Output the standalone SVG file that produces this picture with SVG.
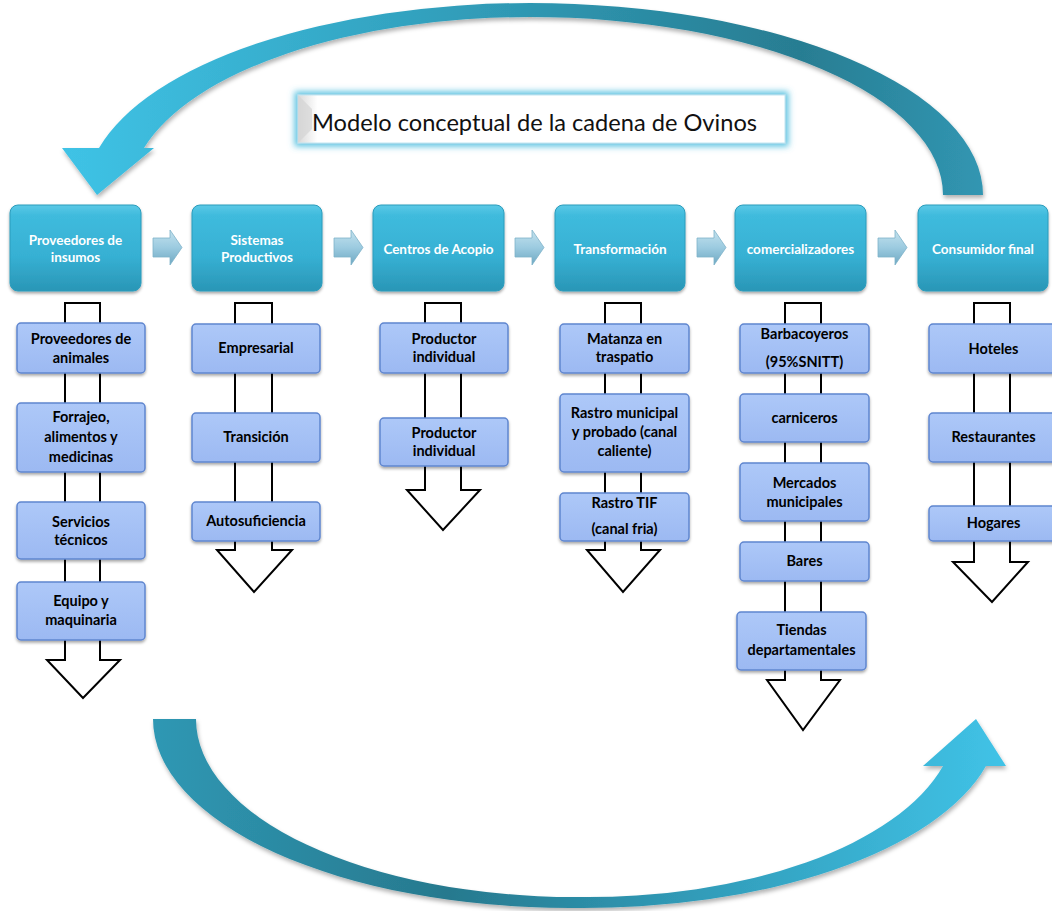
<svg xmlns="http://www.w3.org/2000/svg" width="1052" height="911" viewBox="0 0 1052 911">
<defs>
<linearGradient id="gTop" x1="0" y1="0" x2="1" y2="0">
<stop offset="0" stop-color="#3fc3e6"/>
<stop offset="0.45" stop-color="#309cb8"/>
<stop offset="0.8" stop-color="#287d92"/>
<stop offset="1" stop-color="#3196b2"/>
</linearGradient>
<linearGradient id="gBot" gradientUnits="userSpaceOnUse" x1="150" y1="720" x2="1000" y2="720">
<stop offset="0" stop-color="#2f98b4"/>
<stop offset="0.35" stop-color="#27798e"/>
<stop offset="0.6" stop-color="#2f97b3"/>
<stop offset="1" stop-color="#40c2e6"/>
</linearGradient>
<linearGradient id="gHead" x1="0" y1="0" x2="0" y2="1">
<stop offset="0" stop-color="#5cc9e6"/>
<stop offset="0.12" stop-color="#3fbbdd"/>
<stop offset="0.6" stop-color="#36b0d3"/>
<stop offset="1" stop-color="#2a96b6"/>
</linearGradient>
<linearGradient id="gSub" x1="0" y1="0" x2="0" y2="1">
<stop offset="0" stop-color="#adc8f8"/>
<stop offset="1" stop-color="#9cb9f2"/>
</linearGradient>
<linearGradient id="gChev" x1="0" y1="0" x2="0" y2="1">
<stop offset="0" stop-color="#c4e2ee"/>
<stop offset="0.5" stop-color="#9ccbe0"/>
<stop offset="1" stop-color="#6ea8c2"/>
</linearGradient>
<linearGradient id="gTitle" x1="0" y1="0" x2="1" y2="0">
<stop offset="0" stop-color="#d9d9d9"/>
<stop offset="0.04" stop-color="#ffffff"/>
<stop offset="1" stop-color="#ffffff"/>
</linearGradient>
<filter id="sh" x="-10%" y="-10%" width="120%" height="130%">
<feDropShadow dx="0" dy="2" stdDeviation="1.5" flood-color="#000" flood-opacity="0.35"/>
</filter>
<filter id="glow2" x="-10%" y="-50%" width="120%" height="200%">
<feMorphology in="SourceAlpha" operator="dilate" radius="3" result="d"/>
<feGaussianBlur in="d" stdDeviation="3" result="b"/>
<feFlood flood-color="#3fb8db" flood-opacity="0.85"/>
<feComposite in2="b" operator="in" result="g"/>
<feMerge><feMergeNode in="g"/><feMergeNode in="SourceGraphic"/></feMerge>
</filter>
<filter id="ash" x="-5%" y="-5%" width="110%" height="115%">
<feDropShadow dx="1" dy="3" stdDeviation="2" flood-color="#000" flood-opacity="0.3"/>
</filter>
</defs>
<style>
.head{fill:url(#gHead);stroke:#2b9cbc;stroke-width:1;filter:url(#sh)}
.sub{fill:url(#gSub);stroke:#5f86cf;stroke-width:1.5;filter:url(#sh)}
.ht{font-family:Lato,"Liberation Sans",sans-serif;font-weight:bold;font-size:13.5px;fill:#ffffff;text-anchor:middle}
.st{font-family:Lato,"Liberation Sans",sans-serif;font-weight:bold;font-size:14.5px;fill:#000000;text-anchor:middle}
.hollow{fill:#ffffff;stroke:#000000;stroke-width:2}
.chev{fill:url(#gChev);stroke:#7fb2c9;stroke-width:0.8}
</style>

<g id="cycle-arrows">
<path id="arrow-top" filter="url(#ash)" fill="url(#gTop)" d="M983,195 A453,192 0 0 0 530,3 A445,192 0 0 0 99,148 L62,148 L97,195 L154,148 L144,148 A400,178 0 0 1 530,17 A413,178 0 0 1 943,195 Z"/>
<path id="arrow-bottom" filter="url(#ash)" fill="url(#gBot)" d="M153,719 A417,189 0 0 0 570,908 A416,189 0 0 0 986,766 L1006,766 L976,719 L923,766 L943,766 A368,178 0 0 1 575,897 A379,178 0 0 1 196,719 Z"/>
</g>

<g id="title">
<rect x="298" y="95" width="487" height="48" fill="url(#gTitle)" stroke="#bfe6f2" stroke-width="1" filter="url(#glow2)"/>
<path d="M298,95 L312,109 L312,129 L298,143 Z" fill="#d4d4d4" opacity="0.7"/>
<text x="312" y="131" font-family="Lato,'Liberation Sans',sans-serif" font-size="24" fill="#111" textLength="445" lengthAdjust="spacingAndGlyphs">Modelo conceptual de la cadena de Ovinos</text>
</g>

<g id="connectors">
<path class="chev" d="M153,238 H170 V230 L182,247.5 L170,265 V257 H153 Z"/>
<path class="chev" d="M334,238 H351 V230 L363,247.5 L351,265 V257 H334 Z"/>
<path class="chev" d="M515,238 H532 V230 L544,247.5 L532,265 V257 H515 Z"/>
<path class="chev" d="M697,238 H714 V230 L726,247.5 L714,265 V257 H697 Z"/>
<path class="chev" d="M878,238 H895 V230 L907,247.5 L895,265 V257 H878 Z"/>
<path class="hollow" d="M65,303 H100 V660 H120 L83,698 L47,660 H65 Z"/>
<path class="hollow" d="M235,303 H272 V550 H292 L254,592 L217,550 H235 Z"/>
<path class="hollow" d="M425,303 H461 V490 H480 L443,530 L407,490 H425 Z"/>
<path class="hollow" d="M605,303 H641 V550 H660 L623,592 L587,550 H605 Z"/>
<path class="hollow" d="M785,303 H821 V680 H840 L803,730 L767,680 H785 Z"/>
<path class="hollow" d="M974,303 H1010 V562 H1028 L992,602 L953,562 H974 Z"/>
</g>

<g id="n-proveedores-insumos"><rect class="head" x="10" y="205" width="131" height="86" rx="8"/><text class="ht" x="75.5" y="245">Proveedores de</text><text class="ht" x="75.5" y="262">insumos</text></g>
<g id="n-sistemas"><rect class="head" x="192" y="205" width="130" height="86" rx="8"/><text class="ht" x="257" y="245">Sistemas</text><text class="ht" x="257" y="262">Productivos</text></g>
<g id="n-centros"><rect class="head" x="373" y="205" width="131" height="86" rx="8"/><text class="ht" x="438.5" y="254">Centros de Acopio</text></g>
<g id="n-transformacion"><rect class="head" x="555" y="205" width="130" height="86" rx="8"/><text class="ht" x="620" y="254">Transformación</text></g>
<g id="n-comercializadores"><rect class="head" x="735" y="205" width="131" height="86" rx="8"/><text class="ht" x="800.5" y="254">comercializadores</text></g>
<g id="n-consumidor"><rect class="head" x="918" y="205" width="130" height="86" rx="8"/><text class="ht" x="983" y="254">Consumidor final</text></g>

<g id="n-prov-animales"><rect class="sub" x="17" y="323" width="128" height="50" rx="4"/><text class="st" x="81" y="344">Proveedores de</text><text class="st" x="81" y="363">animales</text></g>
<g id="n-forrajeo"><rect class="sub" x="17" y="403" width="128" height="69" rx="4"/><text class="st" x="81" y="422">Forrajeo,</text><text class="st" x="81" y="442">alimentos y</text><text class="st" x="81" y="462">medicinas</text></g>
<g id="n-servicios"><rect class="sub" x="17" y="502" width="128" height="57" rx="4"/><text class="st" x="81" y="527">Servicios</text><text class="st" x="81" y="545">técnicos</text></g>
<g id="n-equipo"><rect class="sub" x="17" y="582" width="128" height="58" rx="4"/><text class="st" x="81" y="606">Equipo y</text><text class="st" x="81" y="625">maquinaria</text></g>

<g id="n-empresarial"><rect class="sub" x="192" y="324" width="128" height="49" rx="4"/><text class="st" x="256" y="353">Empresarial</text></g>
<g id="n-transicion"><rect class="sub" x="192" y="413" width="128" height="49" rx="4"/><text class="st" x="256" y="442">Transición</text></g>
<g id="n-autosuficiencia"><rect class="sub" x="192" y="502" width="128" height="39" rx="4"/><text class="st" x="256" y="526">Autosuficiencia</text></g>

<g id="n-productor-1"><rect class="sub" x="380" y="323" width="128" height="50" rx="4"/><text class="st" x="444" y="344">Productor</text><text class="st" x="444" y="362">individual</text></g>
<g id="n-productor-2"><rect class="sub" x="380" y="418" width="128" height="48" rx="4"/><text class="st" x="444" y="438">Productor</text><text class="st" x="444" y="456">individual</text></g>

<g id="n-matanza"><rect class="sub" x="560" y="324" width="129" height="49" rx="4"/><text class="st" x="624.5" y="344">Matanza en</text><text class="st" x="624.5" y="362">traspatio</text></g>
<g id="n-rastro-municipal"><rect class="sub" x="560" y="394" width="129" height="78" rx="4"/><text class="st" x="624.5" y="418">Rastro municipal</text><text class="st" x="624.5" y="437">y probado  (canal</text><text class="st" x="624.5" y="456">caliente)</text></g>
<g id="n-rastro-tif"><rect class="sub" x="560" y="493" width="129" height="48" rx="4"/><text class="st" x="624.5" y="508">Rastro TIF</text><text class="st" x="624.5" y="534">(canal fria)</text></g>

<g id="n-barbacoyeros"><rect class="sub" x="740" y="324" width="129" height="49" rx="4"/><text class="st" x="804.5" y="339">Barbacoyeros</text><text class="st" x="804.5" y="367">(95%SNITT)</text></g>
<g id="n-carniceros"><rect class="sub" x="740" y="394" width="129" height="48" rx="4"/><text class="st" x="804.5" y="423">carniceros</text></g>
<g id="n-mercados"><rect class="sub" x="740" y="463" width="129" height="58" rx="4"/><text class="st" x="804.5" y="488">Mercados</text><text class="st" x="804.5" y="507">municipales</text></g>
<g id="n-bares"><rect class="sub" x="740" y="542" width="129" height="39" rx="4"/><text class="st" x="804.5" y="566">Bares</text></g>
<g id="n-tiendas"><rect class="sub" x="737" y="612" width="129" height="58" rx="4"/><text class="st" x="801.5" y="635">Tiendas</text><text class="st" x="801.5" y="655">departamentales</text></g>

<g id="n-hoteles"><rect class="sub" x="929" y="324" width="129" height="49" rx="4"/><text class="st" x="993.5" y="354">Hoteles</text></g>
<g id="n-restaurantes"><rect class="sub" x="929" y="413" width="129" height="49" rx="4"/><text class="st" x="993.5" y="442">Restaurantes</text></g>
<g id="n-hogares"><rect class="sub" x="929" y="506" width="129" height="35" rx="4"/><text class="st" x="993.5" y="528">Hogares</text></g>
</svg>
